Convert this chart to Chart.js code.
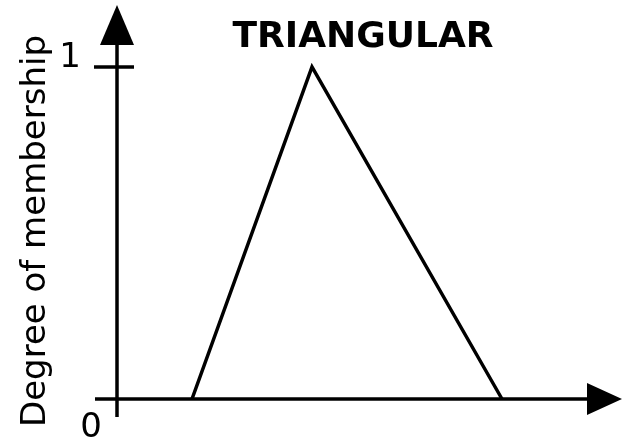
<!DOCTYPE html>
<html lang="en">
<head>
    <meta charset="UTF-8">
    <title>Triangular membership function</title>
    <script src="https://cdn.jsdelivr.net/npm/chart.js"></script>
    <style>
        body { margin: 0; background: #fff; }
        #memberChart { display: block; }
    </style>
</head>
<body>
    <canvas id="memberChart" width="623" height="443"></canvas>
    <script>
        // Triangle corners (x in arbitrary units, y = degree of membership)
        const memberX = [1.5, 3.9, 7.7];
        const memberY = [0, 1, 0];
        // Labelled y values
        const yTicks = [0, 1];
        const yTickLabels = ['0', '1'];
        const titleText = 'TRIANGULAR';
        const yAxisText = 'Degree of membership';

        const points = memberX.map((x, i) => ({ x: x, y: memberY[i] }));
        const FONT = '"DejaVu Sans", Verdana, sans-serif';

        // Draw the arrowed axes, the tick and the labels by hand
        const axesPlugin = {
            id: 'arrowAxes',
            beforeDatasetsDraw(chart) {
                const ctx = chart.ctx;
                const xs = chart.scales.x;
                const ys = chart.scales.y;
                const x0 = xs.getPixelForValue(0);
                const y0 = ys.getPixelForValue(yTicks[0]);
                const y1 = ys.getPixelForValue(yTicks[1]);

                ctx.save();
                ctx.strokeStyle = '#000';
                ctx.fillStyle = '#000';
                ctx.lineWidth = 3.5;
                ctx.lineCap = 'butt';

                // vertical axis
                ctx.beginPath();
                ctx.moveTo(x0, y0 + 18);
                ctx.lineTo(x0, 44);
                ctx.stroke();
                // horizontal axis
                ctx.beginPath();
                ctx.moveTo(x0 - 22, y0);
                ctx.lineTo(588, y0);
                ctx.stroke();
                // tick at 1
                ctx.beginPath();
                ctx.moveTo(x0 - 23, y1);
                ctx.lineTo(x0 + 17, y1);
                ctx.stroke();

                // up arrow head
                ctx.beginPath();
                ctx.moveTo(x0, 5);
                ctx.lineTo(x0 - 17, 45);
                ctx.lineTo(x0 + 17, 45);
                ctx.closePath();
                ctx.fill();
                // right arrow head
                ctx.beginPath();
                ctx.moveTo(622, y0);
                ctx.lineTo(587, y0 - 16);
                ctx.lineTo(587, y0 + 16);
                ctx.closePath();
                ctx.fill();

                // tick labels
                ctx.font = '34px ' + FONT;
                ctx.textBaseline = 'alphabetic';
                ctx.textAlign = 'right';
                ctx.fillText(yTickLabels[1], x0 - 36, y1);
                ctx.textAlign = 'center';
                ctx.fillText(yTickLabels[0], x0 - 26, y0 + 38);

                // title
                ctx.font = 'bold 36px ' + FONT;
                ctx.fillText(titleText, 363, 47);

                // rotated y axis label
                ctx.font = '34px ' + FONT;
                ctx.translate(45, 231);
                ctx.rotate(-Math.PI / 2);
                ctx.fillText(yAxisText, 0, 0);
                ctx.restore();
            }
        };

        const ctx = document.getElementById('memberChart').getContext('2d');
        const memberChart = new Chart(ctx, {
            type: 'scatter',
            data: {
                datasets: [{
                    label: 'Triangular',
                    data: points,
                    showLine: true,
                    borderColor: '#000',
                    borderWidth: 3.5,
                    borderJoinStyle: 'miter',
                    pointRadius: 0,
                    tension: 0,
                    clip: false
                }]
            },
            options: {
                responsive: false,
                animation: false,
                layout: {
                    padding: { left: 117, right: 6, top: 67, bottom: 44 }
                },
                scales: {
                    x: { type: 'linear', min: 0, max: 10, display: false },
                    y: { type: 'linear', min: 0, max: 1, display: false }
                },
                plugins: {
                    legend: { display: false },
                    tooltip: { enabled: false }
                }
            },
            plugins: [axesPlugin]
        });
    </script>
</body>
</html>
